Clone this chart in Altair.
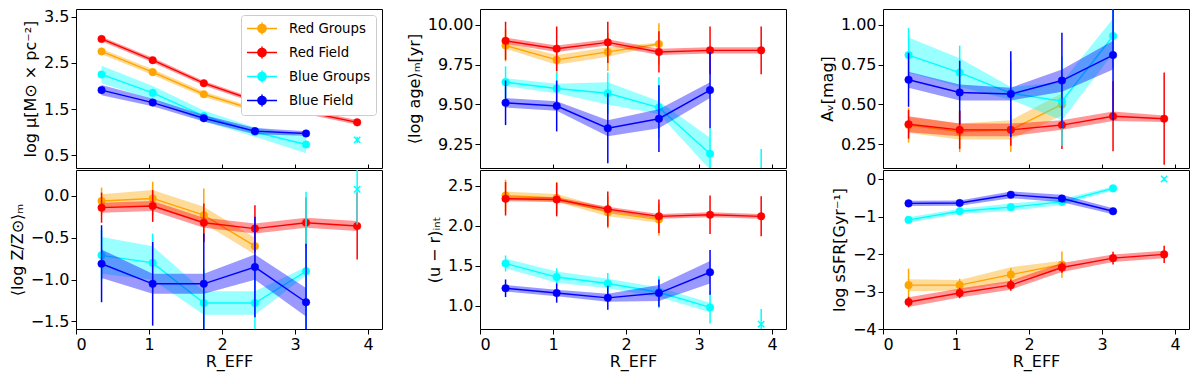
import altair as alt
import pandas as pd

R = [0.35, 1.05, 1.75, 2.45, 3.15, 3.85]
SERIES = ["Red Groups", "Red Field", "Blue Groups", "Blue Field"]
COLORS = ["#ffa500", "#ff0000", "#00ffff", "#0000ff"]
X_TICKS = [0, 1, 2, 3, 4]
X_DOMAIN = [0, 4.19]

# ---- log mu ----
MU_VAL = {"Red Groups": [2.75, 2.30, 1.82, 1.48],
          "Red Field": [3.02, 2.56, 2.06, 1.68, 1.44, 1.21],
          "Blue Groups": [2.25, 1.85, 1.35, 1.00, 0.73],
          "Blue Field": [1.91, 1.64, 1.30, 1.02, 0.97]}
MU_ERR = {"Red Groups": [0.02, 0.02, 0.02, 0.02],
          "Red Field": [0.02, 0.02, 0.02, 0.02, 0.02, 0.02],
          "Blue Groups": [0.03, 0.03, 0.03, 0.03, 0.03],
          "Blue Field": [0.02, 0.02, 0.02, 0.02, 0.02]}
MU_BAND = {"Red Groups": [0.06, 0.06, 0.06, 0.05],
           "Red Field": [0.05, 0.05, 0.05, 0.05, 0.05, 0.05],
           "Blue Groups": [0.19, 0.15, 0.12, 0.10, 0.19],
           "Blue Field": [0.11, 0.08, 0.07, 0.07, 0.05]}
MU_EXTRA = [0.83, 0.07]

# ---- log age ----
AGE_VAL = {"Red Groups": [9.87, 9.78, 9.83, 9.88],
           "Red Field": [9.90, 9.85, 9.89, 9.83, 9.84, 9.84],
           "Blue Groups": [9.64, 9.60, 9.57, 9.48, 9.19],
           "Blue Field": [9.51, 9.49, 9.35, 9.41, 9.59]}
AGE_ERR = {"Red Groups": [0.10, 0.10, 0.12, 0.13],
           "Red Field": [0.12, 0.14, 0.13, 0.13, 0.15, 0.15],
           "Blue Groups": [0.10, 0.10, 0.13, 0.19, 0.16],
           "Blue Field": [0.14, 0.16, 0.22, 0.21, 0.24]}
AGE_BAND = {"Red Groups": [0.02, 0.03, 0.03, 0.01],
            "Red Field": [0.02, 0.02, 0.02, 0.02, 0.02, 0.02],
            "Blue Groups": [0.025, 0.03, 0.07, 0.04, 0.10],
            "Blue Field": [0.03, 0.03, 0.05, 0.06, 0.05]}
AGE_EXTRA = [8.95, 0.27]

# ---- A_V ----
AV_VAL = {"Red Groups": [0.37, 0.33, 0.34, 0.50],
          "Red Field": [0.375, 0.34, 0.34, 0.37, 0.425, 0.41],
          "Blue Groups": [0.81, 0.70, 0.57, 0.52, 0.93],
          "Blue Field": [0.655, 0.575, 0.565, 0.65, 0.81]}
AV_ERR = {"Red Groups": [0.11, 0.13, 0.14, 0.20],
          "Red Field": [0.09, 0.12, 0.10, 0.15, 0.22, 0.29],
          "Blue Groups": [0.17, 0.17, 0.20, 0.28, 0.20],
          "Blue Field": [0.17, 0.20, 0.27, 0.30, 0.41]}
AV_BAND = {"Red Groups": [0.05, 0.05, 0.06, 0.07],
           "Red Field": [0.05, 0.04, 0.04, 0.03, 0.03, 0.02],
           "Blue Groups": [0.11, 0.09, 0.04, 0.12, 0.11],
           "Blue Field": [0.05, 0.05, 0.04, 0.07, 0.09]}
AV_EXTRA = None

# ---- log Z ----
Z_VAL = {"Red Groups": [-0.06, -0.03, -0.23, -0.60],
         "Red Field": [-0.14, -0.12, -0.32, -0.39, -0.32, -0.36],
         "Blue Groups": [-0.71, -0.80, -1.28, -1.28, -0.90],
         "Blue Field": [-0.81, -1.05, -1.05, -0.85, -1.27]}
Z_ERR = {"Red Groups": [0.16, 0.20, 0.32, 0.20],
         "Red Field": [0.18, 0.19, 0.23, 0.28, 0.30, 0.40],
         "Blue Groups": [0.30, 0.35, 0.40, 0.40, 0.95],
         "Blue Field": [0.46, 0.50, 0.60, 0.60, 0.70]}
Z_BAND = {"Red Groups": [0.08, 0.10, 0.10, 0.10],
          "Red Field": [0.06, 0.06, 0.06, 0.06, 0.06, 0.06],
          "Blue Groups": [0.22, 0.20, 0.14, 0.14, 0.05],
          "Blue Field": [0.17, 0.12, 0.12, 0.15, 0.17]}
Z_EXTRA = [0.08, 0.42]

# ---- u - r ----
UR_VAL = {"Red Groups": [2.38, 2.35, 2.17, 2.08],
          "Red Field": [2.34, 2.33, 2.21, 2.12, 2.14, 2.12],
          "Blue Groups": [1.53, 1.36, 1.28, 1.17, 0.98],
          "Blue Field": [1.22, 1.16, 1.10, 1.16, 1.42]}
UR_ERR = {"Red Groups": [0.20, 0.20, 0.20, 0.20],
          "Red Field": [0.21, 0.21, 0.22, 0.21, 0.24, 0.25],
          "Blue Groups": [0.10, 0.11, 0.13, 0.20, 0.20],
          "Blue Field": [0.11, 0.12, 0.15, 0.17, 0.28]}
UR_BAND = {"Red Groups": [0.05, 0.05, 0.05, 0.04],
           "Red Field": [0.03, 0.03, 0.03, 0.03, 0.03, 0.03],
           "Blue Groups": [0.06, 0.07, 0.06, 0.06, 0.06],
           "Blue Field": [0.04, 0.04, 0.05, 0.10, 0.14]}
UR_EXTRA = [0.77, 0.19]

# ---- log sSFR ----
SF_VAL = {"Red Groups": [-2.83, -2.83, -2.55, -2.28],
          "Red Field": [-3.28, -3.04, -2.83, -2.36, -2.11, -2.01],
          "Blue Groups": [-1.09, -0.86, -0.75, -0.61, -0.25],
          "Blue Field": [-0.65, -0.64, -0.42, -0.52, -0.86]}
SF_ERR = {"Red Groups": [0.44, 0.17, 0.17, 0.35],
          "Red Field": [0.14, 0.14, 0.15, 0.14, 0.17, 0.23],
          "Blue Groups": [0.05, 0.05, 0.05, 0.05, 0.05],
          "Blue Field": [0.05, 0.05, 0.05, 0.05, 0.05]}
SF_BAND = {"Red Groups": [0.16, 0.14, 0.20, 0.10],
           "Red Field": [0.13, 0.12, 0.12, 0.12, 0.10, 0.10],
           "Blue Groups": [0.07, 0.07, 0.10, 0.08, 0.05],
           "Blue Field": [0.07, 0.07, 0.09, 0.10, 0.08]}
SF_EXTRA = [0.0, 0.05]

W, H = 306, 159
FONT = "DejaVu Sans"
FS = 16
LEGEND_PATH = ("M-1,0L3,0M1,-0.8L1,0.8"
               "M1.55,0A0.55,0.55,0,1,1,0.45,0A0.55,0.55,0,1,1,1.55,0Z")
X_PATH = "M-1,-1L1,1M-1,1L1,-1"


def make_df(vals, errs, bands):
    rows = []
    for s in SERIES:
        for r, v, e, b in zip(R, vals[s], errs[s], bands[s]):
            rows.append(dict(r=r, series=s, val=v, elo=v - e, ehi=v + e,
                             blo=v - b, bhi=v + b))
    return pd.DataFrame(rows)


def panel(vals, errs, bands, extra, ydom, yvals, yfmt, ytitle, bottom, legend):
    df = make_df(vals, errs, bands)
    if bottom:
        xaxis = alt.Axis(values=X_TICKS, format="d", title="R_EFF", tickSize=5,
                         labelPadding=2, titlePadding=1)
    else:
        xaxis = alt.Axis(values=X_TICKS, labels=False, title=None, tickSize=4,
                         offset=-4)
    xscale = alt.Scale(domain=X_DOMAIN, nice=False, zero=False)
    yscale = alt.Scale(domain=ydom, nice=False, zero=False)
    yaxis = alt.Axis(values=yvals, format=yfmt, title=ytitle, tickSize=5,
                     labelPadding=2, titlePadding=5)
    if legend:
        leg = alt.Legend(title=None, orient="top-right", offset=6,
                         symbolType=LEGEND_PATH, symbolSize=225,
                         symbolStrokeWidth=1.5, symbolOpacity=1,
                         labelFontSize=13.3, labelFont=FONT, labelColor="black",
                         labelOffset=26, rowPadding=5, padding=5,
                         strokeColor="#cccccc", fillColor="white",
                         cornerRadius=3, labelLimit=200)
    else:
        leg = None
    cscale = alt.Scale(domain=SERIES, range=COLORS)
    x = alt.X("r:Q", scale=xscale, axis=xaxis)
    fill = alt.Fill("series:N", scale=cscale, legend=leg)
    stroke = alt.Stroke("series:N", scale=cscale, legend=leg)
    layers = []
    for s in SERIES:
        base = alt.Chart(df).transform_filter(alt.datum.series == s)
        layers.append(base.mark_rule(strokeWidth=1.5, clip=True).encode(
            x=x, y=alt.Y("elo:Q", scale=yscale, axis=yaxis), y2="ehi:Q",
            stroke=stroke))
        layers.append(base.mark_line(strokeWidth=1.4, clip=True).encode(
            x=x, y=alt.Y("val:Q", scale=yscale, axis=yaxis), stroke=stroke))
        layers.append(base.mark_point(filled=True, size=57, opacity=1,
                                      strokeWidth=0.5, clip=True).encode(
            x=x, y=alt.Y("val:Q", scale=yscale, axis=yaxis), fill=fill,
            stroke=stroke))
        layers.append(base.mark_area(opacity=0.4, clip=True).encode(
            x=x, y=alt.Y("blo:Q", scale=yscale, axis=yaxis), y2="bhi:Q",
            fill=fill))
    if extra is not None:
        edf = pd.DataFrame([dict(r=R[-1], val=extra[0], elo=extra[0] - extra[1],
                                 ehi=extra[0] + extra[1])])
        eb = alt.Chart(edf)
        layers.append(eb.mark_rule(strokeWidth=1.5, clip=True, color="#00ffff").encode(
            x=x, y=alt.Y("elo:Q", scale=yscale, axis=yaxis), y2="ehi:Q"))
        layers.append(eb.mark_point(shape=X_PATH, filled=False, size=40,
                                    strokeWidth=1.5, clip=True, opacity=1,
                                    color="#00ffff").encode(
            x=x, y=alt.Y("val:Q", scale=yscale, axis=yaxis)))
    return alt.layer(*layers).properties(width=W, height=H)


p1 = panel(MU_VAL, MU_ERR, MU_BAND, MU_EXTRA, [0.22, 3.67], [0.5, 1.5, 2.5, 3.5],
           ".1f", "log μ[M⊙ × pc⁻²]", False, True)
p2 = panel(AGE_VAL, AGE_ERR, AGE_BAND, AGE_EXTRA, [9.10, 10.10],
           [9.25, 9.5, 9.75, 10.0], ".2f", "⟨log age⟩ₘ[yr]", False, False)
p3 = panel(AV_VAL, AV_ERR, AV_BAND, AV_EXTRA, [0.10, 1.10],
           [0.25, 0.5, 0.75, 1.0], ".2f", "Aᵥ[mag]", False, False)
p4 = panel(Z_VAL, Z_ERR, Z_BAND, Z_EXTRA, [-1.59, 0.31],
           [-1.5, -1.0, -0.5, 0.0], ".1f", "⟨log Z/Z⊙⟩ₘ", True, False)
p5 = panel(UR_VAL, UR_ERR, UR_BAND, UR_EXTRA, [0.71, 2.70],
           [1.0, 1.5, 2.0, 2.5], ".1f", "(u − r)ᵢₙₜ", True, False)
p6 = panel(SF_VAL, SF_ERR, SF_BAND, SF_EXTRA, [-4.0, 0.24],
           [-4, -3, -2, -1, 0], "d", "log sSFR[Gyr⁻¹]", True, False)

IND = dict(fill="independent", stroke="independent")


def column(top, bot):
    return alt.vconcat(top, bot, spacing=0).resolve_scale(**IND)


right_pair = alt.hconcat(column(p2, p5), column(p3, p6),
                         spacing=31).resolve_scale(**IND)

chart = alt.hconcat(column(p1, p4), right_pair, spacing=22).resolve_scale(
    **IND).properties(
    padding={"left": 0, "top": 0, "right": 0, "bottom": 5}
).configure_view(stroke="black", strokeWidth=1).configure_axis(
    grid=False, domain=False, labelFont=FONT, titleFont=FONT, labelFontSize=FS,
    titleFontSize=FS, titleFontWeight="normal", labelColor="black",
    titleColor="black", tickColor="black", tickWidth=1)

chart.save("out.html", embed_options={"renderer": "svg", "actions": False})
